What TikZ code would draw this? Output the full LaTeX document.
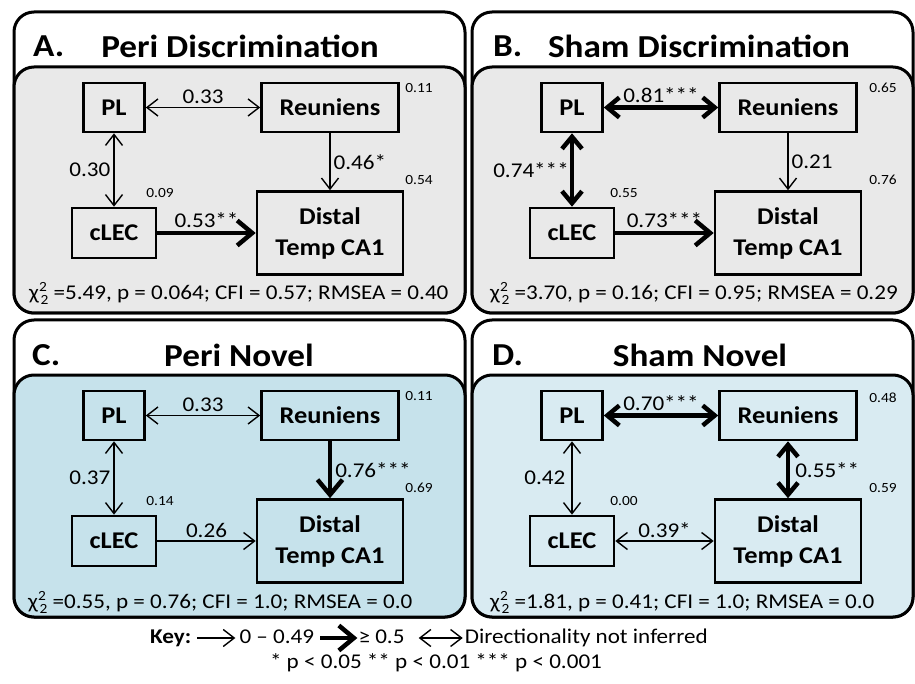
\documentclass[tikz,border=0pt]{standalone}
\usepackage{fontspec}
\setmainfont{Carlito}[FakeStretch=1.1]
\usetikzlibrary{arrows.meta,positioning}

\definecolor{discgray}{RGB}{233,233,233}
\definecolor{perinovel}{RGB}{198,226,235}
\definecolor{shamnovel}{RGB}{217,235,242}

% chi square with the df stacked under the 2
\newcommand{\chisqr}{χ\rlap{\raisebox{0.85ex}{\fontsize{14}{14}\selectfont 2}}\hspace{1.5pt}\raisebox{-0.45ex}{\fontsize{14}{14}\selectfont 2}}

\tikzset{
  frame/.style={draw, line width=3pt, rounded corners=20pt},
  region/.style={draw, line width=2.6pt, inner sep=0pt, align=center,
    font=\bfseries\fontsize{24}{31}\selectfont},
  weak/.style={line width=1.4pt, -{Straight Barb[length=11pt,width=17pt]}},
  weakboth/.style={line width=1.4pt, {Straight Barb[length=11pt,width=17pt]}-{Straight Barb[length=11pt,width=17pt]}},
  strong/.style={line width=4.5pt, -{Straight Barb[length=15pt,width=25pt]}},
  strongboth/.style={line width=4.5pt, {Straight Barb[length=12pt,width=20pt]}-{Straight Barb[length=12pt,width=20pt]}},
  coef/.style={font=\fontsize{21}{22}\selectfont, inner sep=3pt},
  rsq/.style={font=\fontsize{14}{15}\selectfont, inner sep=0pt},
  fitline/.style={font=\fontsize{21}{22}\selectfont, anchor=west, inner sep=0pt},
  heading/.style={font=\bfseries\fontsize{32}{34}\selectfont, inner sep=0pt},
  keytxt/.style={font=\fontsize{21}{23}\selectfont, inner sep=0pt, text height=14pt, text depth=4pt},
}

\begin{document}
\begin{tikzpicture}[x=1pt, y=-1pt]
  \useasboundingbox (0,0) rectangle (915,684);

  % A. peri, discrimination
  \begin{scope}[name prefix=A-]
    \draw[frame, fill=white] (14,12) rectangle (465,313);
    \draw[frame, fill=discgray] (14,67) rectangle (465,313);
    \node[heading, anchor=west] (lab) at (33,46) {A.};
    \node[heading] (title) at (240,46) {Peri Discrimination};
    \node[region, minimum width=61, minimum height=49] (PL) at (114,107.5) {PL};
    \node[region, minimum width=137, minimum height=49] (Reun) at (330,107.5) {Reuniens};
    \node[region, minimum width=84, minimum height=50] (cLEC) at (114,233) {cLEC};
    \node[region, minimum width=146, minimum height=83] (Distal) at (330,233) {Distal\\Temp CA1};
    \node[rsq] (rReun) at (419,88) {0.11};
    \node[rsq] (rDistal) at (419,180) {0.54};
    \node[rsq] (rcLEC) at (160,193) {0.09};
    \draw[weakboth] (PL) -- (Reun) node[coef, midway, above] {0.33};
    \draw[weakboth] (PL) -- (cLEC) node[coef, midway, left] {0.30};
    \draw[weak] (Reun) -- (Distal) node[coef, midway, right] {0.46*};
    \draw[strong] (cLEC) -- (Distal) node[coef, midway, above] {0.53**};
    \node[fitline] (fit) at (29,293) {\chisqr\ =5.49, p = 0.064; CFI = 0.57; RMSEA = 0.40};
  \end{scope}

  % B. sham, discrimination
  \begin{scope}[shift={(458,0)}, name prefix=B-]
    \draw[frame, fill=white] (14,12) rectangle (455,313);
    \draw[frame, fill=discgray] (14,67) rectangle (455,313);
    \node[heading, anchor=west] (lab) at (35,46) {B.};
    \node[heading] (title) at (241,46) {Sham Discrimination};
    \node[region, minimum width=61, minimum height=49] (PL) at (114,107.5) {PL};
    \node[region, minimum width=137, minimum height=49] (Reun) at (330,107.5) {Reuniens};
    \node[region, minimum width=84, minimum height=50] (cLEC) at (114,233) {cLEC};
    \node[region, minimum width=146, minimum height=83] (Distal) at (330,233) {Distal\\Temp CA1};
    \node[rsq] (rReun) at (425,88) {0.65};
    \node[rsq] (rDistal) at (425,180) {0.76};
    \node[rsq] (rcLEC) at (166,193) {0.55};
    \draw[strongboth] (PL) -- (Reun) node[coef, midway, above] {0.81***};
    \draw[strongboth] (PL) -- (cLEC) node[coef, midway, left, inner sep=1pt] {0.74***};
    \draw[weak] (Reun) -- (Distal) node[coef, midway, right] {0.21};
    \draw[strong] (cLEC) -- (Distal) node[coef, midway, above] {0.73***};
    \node[fitline] (fit) at (32,293) {\chisqr\ =3.70, p = 0.16; CFI = 0.95; RMSEA = 0.29};
  \end{scope}

  % C. peri, novel
  \begin{scope}[shift={(0,308)}, name prefix=C-]
    \draw[frame, fill=white] (14,12) rectangle (465,309);
    \draw[frame, fill=perinovel] (14,67) rectangle (465,309);
    \node[heading, anchor=west] (lab) at (32,47) {C.};
    \node[heading] (title) at (239,47) {Peri Novel};
    \node[region, minimum width=61, minimum height=49] (PL) at (114,107.5) {PL};
    \node[region, minimum width=137, minimum height=49] (Reun) at (330,107.5) {Reuniens};
    \node[region, minimum width=84, minimum height=50] (cLEC) at (114,233) {cLEC};
    \node[region, minimum width=146, minimum height=83] (Distal) at (330,233) {Distal\\Temp CA1};
    \node[rsq] (rReun) at (419,88) {0.11};
    \node[rsq] (rDistal) at (419,180) {0.69};
    \node[rsq] (rcLEC) at (160,193) {0.14};
    \draw[weakboth] (PL) -- (Reun) node[coef, midway, above] {0.33};
    \draw[weakboth] (PL) -- (cLEC) node[coef, midway, left] {0.37};
    \draw[strong] (Reun) -- (Distal) node[coef, midway, right] {0.76***};
    \draw[weak] (cLEC) -- (Distal) node[coef, midway, above] {0.26};
    \node[fitline] (fit) at (28,294) {\chisqr\ =0.55, p = 0.76; CFI = 1.0; RMSEA = 0.0};
  \end{scope}

  % D. sham, novel
  \begin{scope}[shift={(458,308)}, name prefix=D-]
    \draw[frame, fill=white] (14,12) rectangle (455,309);
    \draw[frame, fill=shamnovel] (14,67) rectangle (455,309);
    \node[heading, anchor=west] (lab) at (34,47) {D.};
    \node[heading] (title) at (242,47) {Sham Novel};
    \node[region, minimum width=61, minimum height=49] (PL) at (114,107.5) {PL};
    \node[region, minimum width=137, minimum height=49] (Reun) at (330,107.5) {Reuniens};
    \node[region, minimum width=84, minimum height=50] (cLEC) at (114,233) {cLEC};
    \node[region, minimum width=146, minimum height=83] (Distal) at (330,233) {Distal\\Temp CA1};
    \node[rsq] (rReun) at (425,90) {0.48};
    \node[rsq] (rDistal) at (425,180) {0.59};
    \node[rsq] (rcLEC) at (166,193) {0.00};
    \draw[strongboth] (PL) -- (Reun) node[coef, midway, above] {0.70***};
    \draw[weakboth] (PL) -- (cLEC) node[coef, midway, left, inner sep=6pt] {0.42};
    \draw[strongboth] (Reun) -- (Distal) node[coef, midway, right, inner sep=5pt] {0.55**};
    \draw[weakboth] (cLEC) -- (Distal) node[coef, midway, above] {0.39*};
    \node[fitline] (fit) at (32,294) {\chisqr\ =1.81, p = 0.41; CFI = 1.0; RMSEA = 0.0};
  \end{scope}

  % key
  \node[keytxt, font=\bfseries\fontsize{21}{23}\selectfont, anchor=west] (key) at (150,638) {Key:};
  \node[keytxt, right=48pt of key] (low) {0 -- 0.49};
  \node[keytxt, right=44pt of low] (high) {≥ 0.5};
  \node[keytxt, right=60pt of high] (nodir) {Directionality not inferred};
  \draw[weak, shorten <=6pt, shorten >=4pt] (key) -- (low);
  \draw[strong, shorten <=6pt, shorten >=1pt] (low) -- (high);
  \draw[weakboth, shorten <=14pt, shorten >=2pt] (high) -- (nodir);
  \node[keytxt] (stars) at (436,663) {* p < 0.05 ** p < 0.01 *** p < 0.001};
\end{tikzpicture}
\end{document}
